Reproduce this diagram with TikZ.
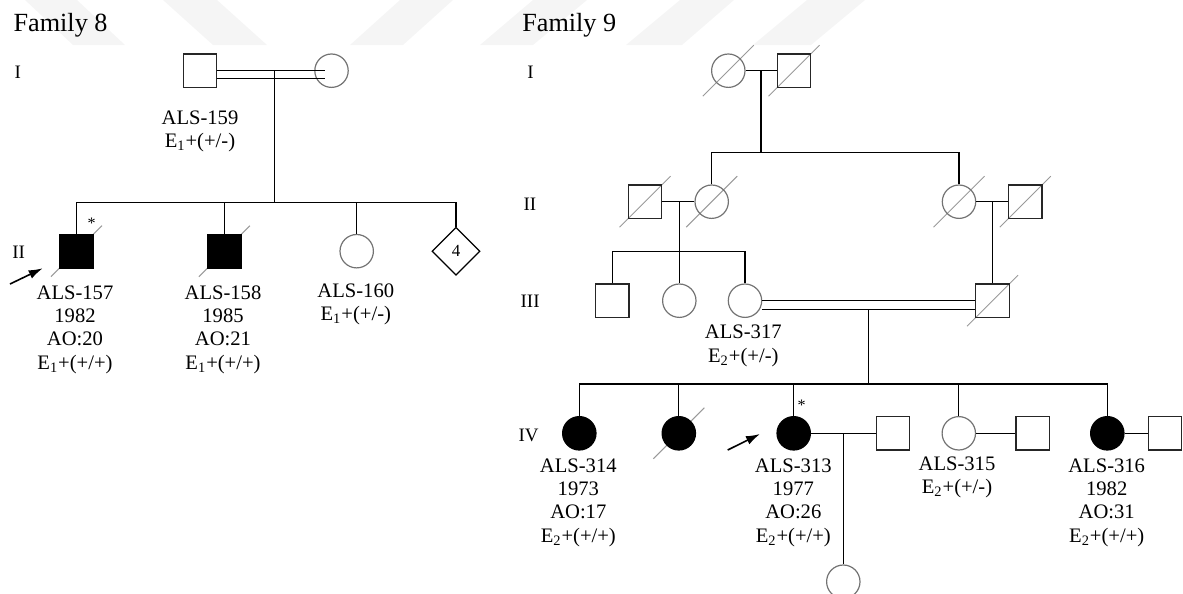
\documentclass[tikz,border=0pt]{standalone}
\usepackage{fontspec}
\setmainfont{Liberation Serif}
\usetikzlibrary{arrows.meta,shapes.geometric,backgrounds}
\newcommand{\slashmark}[1]{\draw[slashline] ([shift={(-25.5,25.5)}]#1.center) -- ([shift={(25.5,-25.5)}]#1.center);}

\begin{document}
\begin{tikzpicture}[x=0.5pt, y=-0.5pt, line width=0.6pt,
  male/.style={draw=black!85, rectangle, minimum size=16.7pt, inner sep=0pt},
  female/.style={draw=black!55, circle, minimum size=16.7pt, inner sep=0pt},
  hit/.style={fill=black, draw=black},
  slashline/.style={draw=black!40, line width=0.5pt},
  lbl/.style={anchor=north, align=center, inner sep=0pt, font=\fontsize{10.3}{11.7}\selectfont},
  gen/.style={anchor=base west, inner sep=0pt, font=\fontsize{9.5}{11}\selectfont},
  title/.style={anchor=base west, inner sep=0pt, font=\fontsize{13.1}{15}\selectfont},
  star/.style={inner sep=0pt, font=\fontsize{8}{8}\selectfont},
  proband/.style={-{Latex[length=7pt,width=4.5pt]}, line width=0.8pt}]
\useasboundingbox (0,0) rectangle (1183,594);

% Family 8
\node[title] (t8) at (13,32) {Family 8};
\node[gen] (g8i) at (14,78) {I};
\node[gen] (g8ii) at (11.7,258.3) {II};
\node[male] (fa8) at (200,70.7) {};
\node[female] (mo8) at (331.5,70.7) {};
\draw (fa8.east) -- ([shift={(-6.5,0)}]mo8.center);
\draw ([shift={(0,7.6)}]fa8.east) -- ([shift={(-6.5,7.6)}]mo8.center);
\coordinate (mar8) at (274.3,70.7);
\coordinate (sib8) at (274.3,202.3);
\draw (mar8) -- (sib8);
\node[lbl] (lab80) at (200,110) {ALS-159\\E\textsubscript{1}+(+/-)};
\node[male,hit] (son81) at (76.5,251.2) {};
\node[male,hit] (son82) at (224.4,251.2) {};
\node[female] (dau83) at (356.7,251.2) {};
\node[draw, diamond, aspect=1, minimum size=24pt, inner sep=0pt, font=\fontsize{8.5}{9}\selectfont] (sib84) at (456,251.2) {4};
\draw (son81.north) -- (son81.north |- sib8) -- (sib84.north |- sib8) -- (sib84.north);
\draw (son82.north) -- (son82.north |- sib8);
\draw (dau83.north) -- (dau83.north |- sib8);
\node[star] (star81) at (91.7,223.3) {*};
\coordinate (arr81) at (10,284);
\coordinate (tip81) at (42.7,268.3);
\draw[proband] (arr81) -- (tip81);
\node[lbl] (lab81) at (75,284.8) {ALS-157\\1982\\AO:20\\E\textsubscript{1}+(+/+)};
\node[lbl] (lab82) at (223,284.8) {ALS-158\\1985\\AO:21\\E\textsubscript{1}+(+/+)};
\node[lbl] (lab83) at (355.8,282.8) {ALS-160\\E\textsubscript{1}+(+/-)};

% Family 9
\node[title] (t9) at (521.7,32) {Family 9};
\node[gen] (g9i) at (526.7,78) {I};
\node[gen] (g9ii) at (523,210.7) {II};
\node[gen] (g9iii) at (520,307.3) {III};
\node[gen] (g9iv) at (518,441) {IV};
% generation I
\node[female] (gma9) at (728.3,70.7) {};
\node[male] (gpa9) at (794,70.7) {};
\draw (gma9) -- (gpa9);
\coordinate (mar91) at (761,70.7);
\coordinate (sib91) at (761,152.7);
\draw (mar91) -- (sib91);
% generation II
\node[male] (m92) at (645,201.7) {};
\node[female] (f92) at (711.7,201.7) {};
\node[female] (f93) at (959,201.7) {};
\node[male] (m93) at (1025.3,201.7) {};
\draw (f92.north) -- (f92.north |- sib91) -- (f93.north |- sib91) -- (f93.north);
\draw (m92) -- (f92);
\draw (f93) -- (m93);
\coordinate (mar92) at (679.3,201.7);
\coordinate (sib92) at (679.3,251.7);
\coordinate (mar93) at (992.5,201.7);
% generation III
\node[male] (iii1) at (612.3,300.7) {};
\node[female] (iii2) at (679.3,300.7) {};
\node[female] (iii3) at (745,300.7) {};
\node[male] (iii4) at (992.5,300.7) {};
\draw (mar92) -- (iii2.north);
\draw (mar93) -- (iii4.north);
\draw (iii1.north) -- (iii1.north |- sib92) -- (iii3.north |- sib92) -- (iii3.north);
\draw (iii3.east) -- (iii4.west);
\draw ([shift={(0,8.6)}]iii3.east) -- ([shift={(0,8.6)}]iii4.west);
\coordinate (mar94) at (868.3,309.3);
\coordinate (sib94) at (868.3,384);
\draw (mar94) -- (sib94);
\node[lbl] (lab917) at (743.3,324.4) {ALS-317\\E\textsubscript{2}+(+/-)};
% generation IV
\node[female,hit] (iv1) at (579.3,433.3) {};
\node[female,hit] (iv2) at (678.8,433.3) {};
\node[female,hit] (iv3) at (793.7,433.3) {};
\node[male] (iv3sp) at (893,433.3) {};
\node[female] (iv5) at (958.8,433.3) {};
\node[male] (iv5sp) at (1032.7,433.3) {};
\node[female,hit] (iv6) at (1107.3,433.3) {};
\node[male] (iv6sp) at (1165,433.3) {};
\draw (iv1.north) -- (iv1.north |- sib94) -- (iv6.north |- sib94) -- (iv6.north);
\draw (iv2.north) -- (iv2.north |- sib94);
\draw (iv3.north) -- (iv3.north |- sib94);
\draw (iv5.north) -- (iv5.north |- sib94);
\draw (iv3) -- (iv3sp);
\draw (iv5) -- (iv5sp);
\draw (iv6) -- (iv6sp);
\node[female] (v1) at (843.3,581.7) {};
\coordinate (mar95) at (843.3,433.3);
\draw (mar95) -- (v1.north);
\node[star] (star913) at (801.7,405) {*};
\coordinate (arr913) at (727.7,450);
\coordinate (tip913) at (760,434);
\draw[proband] (arr913) -- (tip913);
\node[lbl] (lab914) at (578.3,457.8) {ALS-314\\1973\\AO:17\\E\textsubscript{2}+(+/+)};
\node[lbl] (lab913) at (793.3,457.8) {ALS-313\\1977\\AO:26\\E\textsubscript{2}+(+/+)};
\node[lbl] (lab915) at (957,456) {ALS-315\\E\textsubscript{2}+(+/-)};
\node[lbl] (lab916) at (1106.7,457.8) {ALS-316\\1982\\AO:31\\E\textsubscript{2}+(+/+)};

% watermark and deceased marks
\begin{scope}[on background layer]
\fill[black!4] (25,0) -- (77,0) -- (125,45) -- (73,45) -- cycle;
\fill[black!4] (163,0) -- (217,0) -- (267,45) -- (213,45) -- cycle;
\fill[black!4] (400,0) -- (453,0) -- (403,45) -- (350,45) -- cycle;
\fill[black!4] (533,0) -- (587,0) -- (533,45) -- (480,45) -- cycle;
\fill[black!4] (680,0) -- (734,0) -- (682,45) -- (626,45) -- cycle;
\fill[black!4] (807,0) -- (865,0) -- (811,45) -- (753,45) -- cycle;
\slashmark{son81}
\slashmark{son82}
\slashmark{gma9}
\slashmark{gpa9}
\slashmark{m92}
\slashmark{f92}
\slashmark{f93}
\slashmark{m93}
\slashmark{iii4}
\slashmark{iv2}
\end{scope}
\end{tikzpicture}
\end{document}
